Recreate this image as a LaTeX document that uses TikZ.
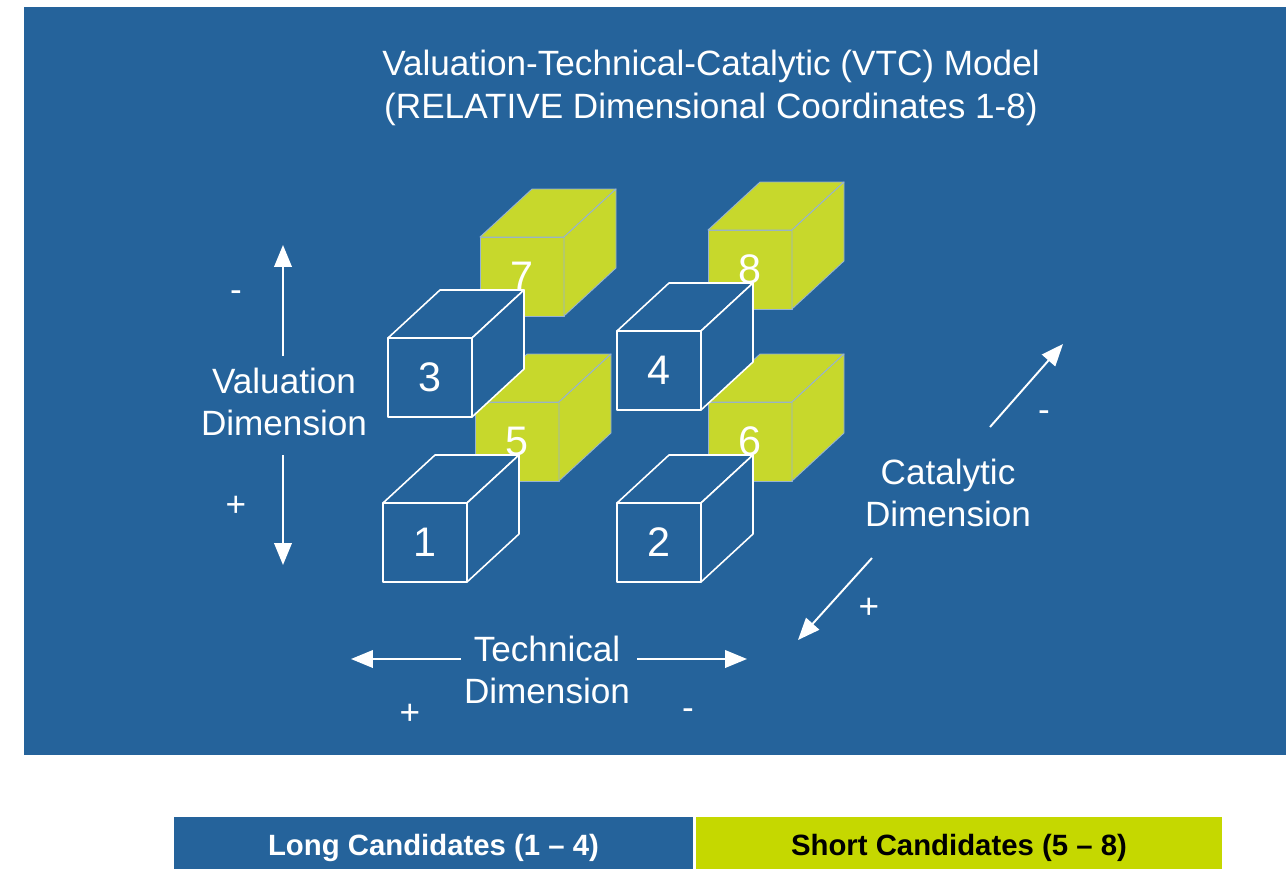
\documentclass[tikz,border=0pt]{standalone}
\usepackage{fontspec}
\setmainfont{Liberation Sans}
\usepackage{tikz}
\usetikzlibrary{arrows.meta}

\definecolor{vtcblue}{RGB}{37,99,155}
\definecolor{vtcgreen}{RGB}{199,216,44}
\definecolor{bargreen}{RGB}{197,216,0}
\definecolor{greenedge}{RGB}{150,178,212}

\tikzset{
  dimtext/.style={text=white, font=\fontsize{20}{24.2}\selectfont, align=center, inner sep=0pt},
  cubenum/.style={text=white, font=\fontsize{23.5}{28}\selectfont, inner sep=0pt},
  dimarrow/.style={white, line width=1.1pt, -{Triangle[length=12.5pt,width=10pt]}},
  longcube/.style={fill=vtcblue, draw=white, line width=0.9pt, line join=round},
  shortcube/.style={fill=vtcgreen, draw=greenedge, line width=0.5pt, line join=round},
  barbox/.style={inner sep=0pt, outer sep=0pt, minimum height=1.04cm, text height=14.2pt, text depth=0pt, font=\fontsize{16.7}{20}\selectfont\bfseries}
}

% #1 name, #2 #3 lower left front corner, #4 style, #5 number
\newcommand{\vtccube}[5]{%
  \filldraw[#4] (#2,#3) -- ++(84,0) -- ++(0,-79) -- ++(-84,0) -- cycle;
  \filldraw[#4] (#2,#3) ++(0,-79) -- ++(52,-48) -- ++(84,0) -- ++(-52,48) -- cycle;
  \filldraw[#4] (#2,#3) ++(84,0) -- ++(52,-48) -- ++(0,-79) -- ++(-52,48) -- cycle;
  \path (#2,#3) ++(42,-39.5) node[cubenum] (#1) {#5};
}

\begin{document}
\begin{tikzpicture}[x=0.02cm, y=-0.02cm]
    \useasboundingbox (0,0) rectangle (1286,869);
    \fill[vtcblue] (24,7) rectangle (1286,755);

    \node[dimtext] (title) at (711,88) {Valuation-Technical-Catalytic (VTC) Model\\(RELATIVE Dimensional Coordinates 1-8)};

    \vtccube{c7}{480}{316}{shortcube}{7}
    \vtccube{c8}{708}{309}{shortcube}{8}
    \vtccube{c5}{475}{481}{shortcube}{5}
    \vtccube{c6}{708}{481}{shortcube}{6}
    \vtccube{c3}{388}{417}{longcube}{3}
    \vtccube{c4}{617}{410}{longcube}{4}
    \vtccube{c1}{383}{582}{longcube}{1}
    \vtccube{c2}{617}{582}{longcube}{2}

    \node[dimtext] (valuation) at (284,402) {Valuation\\Dimension};
    \node[dimtext] (valminus) at (236,296) {-};
    \node[dimtext] (valplus) at (236,506) {+};
    \coordinate (valupA) at (283,356);
    \coordinate (valupB) at (283,245);
    \coordinate (valdownA) at (283,455);
    \coordinate (valdownB) at (283,565);
    \draw[dimarrow] (valupA) -- (valupB);
    \draw[dimarrow] (valdownA) -- (valdownB);

    \node[dimtext] (technical) at (547,670) {Technical\\Dimension};
    \node[dimtext] (techplus) at (410,714) {+};
    \node[dimtext] (techminus) at (688,714) {-};
    \coordinate (techleftA) at (461,659);
    \coordinate (techleftB) at (351,659);
    \coordinate (techrightA) at (637,659);
    \coordinate (techrightB) at (747,659);
    \draw[dimarrow] (techleftA) -- (techleftB);
    \draw[dimarrow] (techrightA) -- (techrightB);

    \node[dimtext] (catalytic) at (948,493) {Catalytic\\Dimension};
    \node[dimtext] (catminus) at (1044,416) {-};
    \node[dimtext] (catplus) at (869,608) {+};
    \coordinate (catupA) at (990,427);
    \coordinate (catupB) at (1063,344);
    \coordinate (catdownA) at (872,558);
    \coordinate (catdownB) at (798,640);
    \draw[dimarrow] (catupA) -- (catupB);
    \draw[dimarrow] (catdownA) -- (catdownB);

    \node[barbox, fill=vtcblue, text=white, minimum width=10.38cm] (longbar) at (433.5,843) {Long Candidates (1 -- 4)};
    \node[barbox, fill=bargreen, text=black, minimum width=10.52cm] (shortbar) at (959,843) {Short Candidates (5 -- 8)};
\end{tikzpicture}
\end{document}
